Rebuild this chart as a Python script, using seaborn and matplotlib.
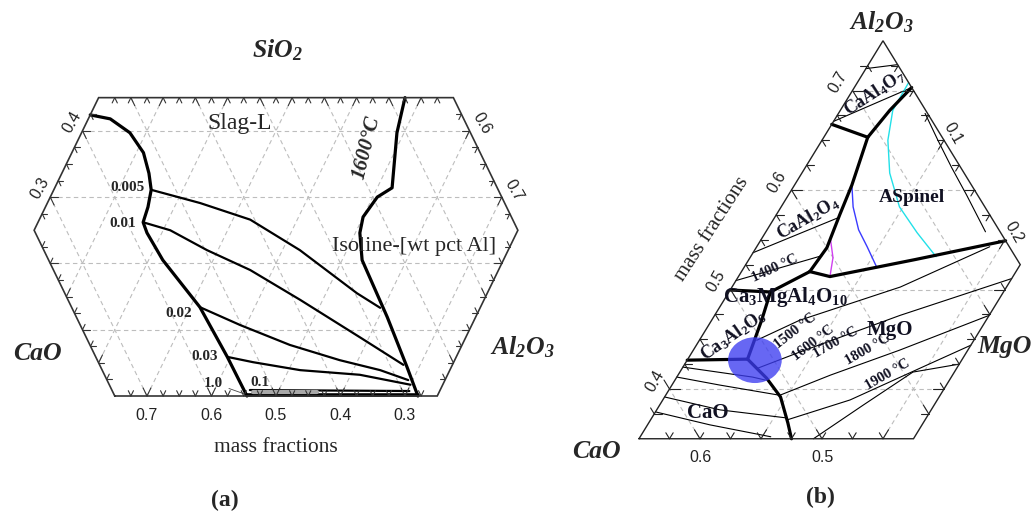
import numpy as np
import matplotlib
matplotlib.use("Agg")
import matplotlib.pyplot as plt
import seaborn as sns
from matplotlib.patches import Polygon, Ellipse

sns.set_theme(style="white")
plt.rcParams["font.family"] = ["Liberation Serif", "DejaVu Serif"]
plt.rcParams["axes.unicode_minus"] = False

# ------------------------------------------------------------------
# (a) CaO-SiO2-Al2O3 at 1600 C : (SiO2, Al2O3) mass fractions, CaO = balance
# ------------------------------------------------------------------
frame_a_sio2 = [0.0, 0.25, 0.45, 0.45, 0.25, 0.0]
frame_a_al2o3 = [0.25, 0.0, 0.0, 0.55, 0.75, 0.75]

slag_sio2 = [0.424, 0.418, 0.397, 0.367, 0.336, 0.311, 0.285, 0.262, 0.246, 0.205, 0.134, 0.059, 0.0]
slag_al2o3 = [0.0, 0.034, 0.075, 0.111, 0.135, 0.151, 0.159, 0.163, 0.177, 0.222, 0.315, 0.395, 0.455]

t1600_sio2 = [0.45, 0.397, 0.314, 0.300, 0.270, 0.246, 0.205, 0.119, 0.044, 0.0]
t1600_al2o3 = [0.475, 0.489, 0.523, 0.507, 0.500, 0.507, 0.531, 0.613, 0.681, 0.720]

iso_levels = ["0.005", "0.01", "0.02", "0.03", "0.1", "1.0"]
iso005_sio2 = [0.311, 0.291, 0.266, 0.220, 0.155, 0.133]
iso005_al2o3 = [0.151, 0.237, 0.327, 0.427, 0.548, 0.595]
iso01_sio2 = [0.262, 0.250, 0.220, 0.190, 0.145, 0.088, 0.047]
iso01_al2o3 = [0.163, 0.211, 0.283, 0.365, 0.465, 0.587, 0.674]
iso02_sio2 = [0.134, 0.107, 0.077, 0.054, 0.039, 0.024]
iso02_al2o3 = [0.315, 0.391, 0.483, 0.572, 0.642, 0.693]
iso03_sio2 = [0.059, 0.051, 0.039, 0.032, 0.017]
iso03_al2o3 = [0.395, 0.439, 0.518, 0.614, 0.700]
iso10_sio2 = [0.009, 0.0075]
iso10_al2o3 = [0.455, 0.703]
iso100_sio2 = [0.0015, 0.0015]
iso100_al2o3 = [0.455, 0.720]

ticks_a_cao = [0.7, 0.6, 0.5, 0.4, 0.3]
ticks_a_sio2 = [0.4, 0.3]
ticks_a_al2o3 = [0.6, 0.7]

# ------------------------------------------------------------------
# (b) CaO-Al2O3-MgO liquidus : (Al2O3, MgO) mass fractions, CaO = balance
# ------------------------------------------------------------------
frame_b_al2o3 = [0.35, 0.75, 0.525, 0.35]
frame_b_mgo = [0.0, 0.0, 0.225, 0.225]

# field boundaries (thick)
b1_al2o3, b1_mgo = [0.666, 0.653], [0.0, 0.036]
b2_al2o3, b2_mgo = [0.653, 0.680, 0.703], [0.036, 0.0405, 0.047]
b3_al2o3, b3_mgo = [0.653, 0.605, 0.575, 0.542, 0.518], [0.036, 0.047, 0.052, 0.058, 0.056]
b4_al2o3, b4_mgo = [0.518, 0.513, 0.530, 0.549], [0.056, 0.075, 0.136, 0.201]
b5_al2o3, b5_mgo = [0.518, 0.4975], [0.056, 0.034]
b6_al2o3, b6_mgo = [0.4995, 0.4975], [0.0, 0.034]
b7_al2o3, b7_mgo = [0.4975, 0.469, 0.430], [0.034, 0.041, 0.049]
b8_al2o3, b8_mgo = [0.429, 0.430], [0.0, 0.049]
b9_al2o3, b9_mgo = [0.430, 0.411, 0.392, 0.366, 0.35], [0.049, 0.074, 0.095, 0.114, 0.125]

# thin isotherms
ca4_top_al2o3, ca4_top_mgo = [0.722, 0.726], [0.0, 0.024]
ca4_low_al2o3, ca4_low_mgo = [0.669, 0.703], [0.0, 0.047]
spinel_arc_al2o3 = [0.677, 0.650, 0.622, 0.595, 0.558]
spinel_arc_mgo = [0.071, 0.095, 0.1205, 0.146, 0.180]
ca2_iso_al2o3, ca2_iso_mgo = [0.537, 0.572], [0.0, 0.052]
t1400_al2o3, t1400_mgo = [0.509, 0.534], [0.0, 0.058]

cao_iso_al2o3 = [[0.422, 0.412, 0.409], [0.412, 0.404, 0.394],
                 [0.392, 0.379, 0.371], [0.377, 0.364, 0.352]]
cao_iso_mgo = [[0.0, 0.062, 0.074], [0.0, 0.039, 0.092],
               [0.0, 0.052, 0.110], [0.0, 0.051, 0.107]]

mgo_iso_al2o3 = [[0.449, 0.469, 0.5025, 0.543], [0.421, 0.437, 0.474, 0.511],
                 [0.394, 0.414, 0.439, 0.474], [0.369, 0.389, 0.421, 0.444],
                 [0.35, 0.384, 0.417, 0.425]]
mgo_iso_mgo = [[0.047, 0.072, 0.138, 0.191], [0.062, 0.088, 0.152, 0.225],
               [0.094, 0.125, 0.169, 0.225], [0.112, 0.1535, 0.195, 0.225],
               [0.143, 0.167, 0.191, 0.225]]

# coloured isoactivity lines
cyan_al2o3 = [0.708, 0.680, 0.650, 0.617, 0.583, 0.557, 0.533]
cyan_mgo = [0.042, 0.043, 0.054, 0.072, 0.097, 0.1245, 0.152]
blue_al2o3 = [0.605, 0.583, 0.560, 0.543, 0.522]
blue_mgo = [0.047, 0.059, 0.075, 0.0905, 0.109]
magenta_al2o3 = [0.550, 0.532, 0.513]
magenta_mgo = [0.057, 0.068, 0.075]

target_al2o3, target_mgo = 0.429, 0.0555

ticks_b_cao = [0.6, 0.5]
ticks_b_al2o3 = [0.7, 0.6, 0.5, 0.4]
ticks_b_mgo = [0.1, 0.2]

# ------------------------------------------------------------------
W, H = 1032, 516
fig = plt.figure(figsize=(W / 100, H / 100), dpi=100)
fig.patch.set_facecolor("white")
PT = 0.72  # points per pixel


def make_axes(px_left, px_right, x0, kx, y0, ky):
    ax = fig.add_axes([px_left / W, 0, (px_right - px_left) / W, 1])
    lims = ((px_left - x0) / kx, (px_right - x0) / kx, (y0 - H) / ky, y0 / ky)
    ax.set_axis_off()
    ax.patch.set_alpha(0)
    return ax, lims


ax_a, lim_a = make_axes(0, 585, -46.5, 645, 396, 663)
ax_b, lim_b = make_axes(560, 1032, 425.5, 1220, 787, 995)


def txy(top, right):
    top = np.asarray(top, float)
    right = np.asarray(right, float)
    return right + top / 2.0, top


def curve(ax, top, right, color="black", lw=1.5, z=4, **kw):
    x, y = txy(top, right)
    sns.lineplot(x=x, y=y, sort=False, estimator=None, ax=ax, color=color,
                 linewidth=lw, zorder=z, legend=False,
                 solid_capstyle="round", solid_joinstyle="round", **kw)


def frame(ax, tops, rights, tick_len, edge_color, edge_lw):
    xs, ys = txy(tops, rights)
    poly = Polygon(np.column_stack([xs, ys]), closed=True, facecolor="none", edgecolor="none")
    ax.add_patch(poly)
    for v in np.arange(0.1, 0.95, 0.1):
        for t0, r0, t1, r1 in [(v, 0, v, 1 - v), (0, v, 1 - v, v), (0, 1 - v, 1 - v, 0)]:
            x, y = txy([t0, t1], [r0, r1])
            ln, = ax.plot(x, y, color="#bdbdbd", lw=0.8, ls=(0, (4, 3)), zorder=1)
            ln.set_clip_path(poly)
    ax.plot(np.append(xs, xs[0]), np.append(ys, ys[0]), color=edge_color,
            lw=edge_lw, zorder=6, solid_joinstyle="miter")
    cx, cy = xs.mean(), ys.mean()
    n = len(tops)
    # directions (d_top, d_right) of the three families of constant-fraction lines
    fam_dirs = {"top": (0.0, 1.0), "right": (1.0, 0.0), "left": (1.0, -1.0)}
    for i in range(n):
        p0 = np.array([tops[i], rights[i]])
        p1 = np.array([tops[(i + 1) % n], rights[(i + 1) % n]])
        for fam, d in fam_dirs.items():
            f = {"top": lambda p: p[0], "right": lambda p: p[1],
                 "left": lambda p: 1 - p[0] - p[1]}[fam]
            f0, f1 = f(p0), f(p1)
            if abs(f1 - f0) < 1e-9:
                continue
            lo, hi = sorted([f0, f1])
            for k in range(int(np.ceil(lo / 0.025 - 1e-6)), int(np.floor(hi / 0.025 + 1e-6)) + 1):
                v = k * 0.025
                if v <= lo + 1e-6 or v >= hi - 1e-6:
                    continue
                u = (v - f0) / (f1 - f0)
                p = p0 + u * (p1 - p0)
                px, py = txy(p[0], p[1])
                dx, dy = txy(d[0], d[1])
                if dx * (cx - px) + dy * (cy - py) < 0:
                    d = (-d[0], -d[1])
                L = tick_len * (1.5 if abs(v * 10 - round(v * 10)) < 1e-6 else 1.0)
                q = p + L * np.array(d)
                qx, qy = txy(q[0], q[1])
                ax.plot([px, qx], [py, qy], color=edge_color, lw=0.8, zorder=6)


def note(ax, top, right, text, dx, dy, **kw):
    x, y = txy(top, right)
    ax.annotate(text, (x, y), xytext=(dx * PT, dy * PT), textcoords="offset points", **kw)


def ftext(px, py, s, **kw):
    kw.setdefault("ha", "center")
    kw.setdefault("va", "center")
    fig.text(px / W, 1 - py / H, s, **kw)


# ---------------------------- panel (a) ----------------------------
frame(ax_a, frame_a_sio2, frame_a_al2o3, 0.008, "#333333", 1.2)

curve(ax_a, slag_sio2, slag_al2o3, lw=2.3, z=5)
curve(ax_a, t1600_sio2, t1600_al2o3, lw=2.3, z=5)
iso_curves = [(iso005_sio2, iso005_al2o3), (iso01_sio2, iso01_al2o3),
              (iso02_sio2, iso02_al2o3), (iso03_sio2, iso03_al2o3),
              (iso10_sio2, iso10_al2o3), (iso100_sio2, iso100_al2o3)]
for k, (s_, a_) in enumerate(iso_curves):
    curve(ax_a, s_, a_, lw=2.6 if k == 5 else 1.6, z=4)
curve(ax_a, [0.006, 0.006], [0.462, 0.56], color="#a8a8a8", lw=3.0, z=4)

lab_kw = dict(fontsize=11, fontweight="bold", va="center")
note(ax_a, iso005_sio2[0], iso005_al2o3[0], iso_levels[0], -7, 2, ha="right", **lab_kw)
note(ax_a, iso01_sio2[0], iso01_al2o3[0], iso_levels[1], -7, -1, ha="right", **lab_kw)
note(ax_a, iso02_sio2[0], iso02_al2o3[0], iso_levels[2], -8, -6, ha="right", **lab_kw)
note(ax_a, iso03_sio2[0], iso03_al2o3[0], iso_levels[3], -9, 0, ha="right", **lab_kw)
note(ax_a, iso10_sio2[0], iso10_al2o3[0], iso_levels[4], 10, 8, ha="center", **lab_kw)
note(ax_a, iso100_sio2[0], iso100_al2o3[0], iso_levels[5], -34, 12, ha="center",
     arrowprops=dict(arrowstyle="-", lw=0.6, color="#444444", shrinkA=2, shrinkB=0), **lab_kw)

tick_kw = dict(fontsize=11.5, family="Liberation Sans", ha="center", va="center", color="#222222")
for v in ticks_a_cao:
    note(ax_a, 0.0, 1 - v, f"{v:.1f}", 0, -19, **tick_kw)
for v in ticks_a_sio2:
    note(ax_a, v, 0.0, f"{v:.1f}", -10, 9, rotation=60, **tick_kw)
for v in ticks_a_al2o3:
    note(ax_a, 1 - v, v, f"{v:.1f}", 12, 7, rotation=-60, **tick_kw)

ftext(240, 124, "Slag-L", fontsize=17)
ftext(414, 246, "Isoline-[wt pct Al]", fontsize=16)
ftext(366, 148, "1600°C", fontsize=15, fontweight="bold", style="italic", rotation=76)
ftext(276, 447, "mass fractions", fontsize=15.5)
vkw = dict(fontsize=18.5, fontweight="bold", style="italic")
ftext(277, 50, r"$\mathdefault{SiO_2}$", **vkw)
ftext(37, 353, "CaO", **vkw)
ftext(522, 347, r"$\mathdefault{Al_2O_3}$", **vkw)
ftext(225, 500, "(a)", fontsize=17, fontweight="bold")

# ---------------------------- panel (b) ----------------------------
frame(ax_b, frame_b_al2o3, frame_b_mgo, 0.006, "#222222", 1.0)

for a_, m_ in [(b1_al2o3, b1_mgo), (b2_al2o3, b2_mgo), (b3_al2o3, b3_mgo),
               (b4_al2o3, b4_mgo), (b5_al2o3, b5_mgo), (b6_al2o3, b6_mgo),
               (b7_al2o3, b7_mgo), (b8_al2o3, b8_mgo), (b9_al2o3, b9_mgo)]:
    curve(ax_b, a_, m_, lw=2.3, z=5)

for a_, m_ in [(ca4_top_al2o3, ca4_top_mgo), (ca4_low_al2o3, ca4_low_mgo),
               (spinel_arc_al2o3, spinel_arc_mgo), (ca2_iso_al2o3, ca2_iso_mgo),
               (t1400_al2o3, t1400_mgo)]:
    curve(ax_b, a_, m_, lw=0.8, z=3)
for a_, m_ in zip(cao_iso_al2o3, cao_iso_mgo):
    curve(ax_b, a_, m_, lw=0.8, z=3)
for a_, m_ in zip(mgo_iso_al2o3, mgo_iso_mgo):
    curve(ax_b, a_, m_, lw=0.8, z=3)

curve(ax_b, cyan_al2o3, cyan_mgo, color="#22e0e8", lw=1.0, z=3)
curve(ax_b, blue_al2o3, blue_mgo, color="#3a3aff", lw=1.0, z=3)
curve(ax_b, magenta_al2o3, magenta_mgo, color="#d040f0", lw=1.0, z=3)

ex, ey = txy(target_al2o3, target_mgo)
ax_b.add_patch(Ellipse((ex, ey), 0.044, 0.046, facecolor="#3c3cf0", edgecolor="none",
                       alpha=0.78, zorder=7))

for v in ticks_b_cao:
    note(ax_b, 0.35, 0.65 - v, f"{v:.1f}", 0, -19, **tick_kw)
for v in ticks_b_al2o3:
    note(ax_b, v, 0.0, f"{v:.1f}", -14, 8, rotation=60, **tick_kw)
for v in ticks_b_mgo:
    note(ax_b, 0.75 - v, v, f"{v:.1f}", 9, 7, rotation=-60, **tick_kw)

fkw = dict(fontweight="bold", color="#111122")
ftext(875, 93, r"$\mathdefault{CaAl_4O_7}$", fontsize=13, rotation=33, **fkw)
ftext(808, 218, r"$\mathdefault{CaAl_2O_4}$", fontsize=13, rotation=30, **fkw)
ftext(912, 197, "ASpinel", fontsize=14, **fkw)
ftext(775, 268, "1400 °C", fontsize=10.5, rotation=25, **fkw)
ftext(785, 297, r"$\mathdefault{Ca_3MgAl_4O_{10}}$", fontsize=15, **fkw)
ftext(733, 335, r"$\mathdefault{Ca_3Al_2O_6}$", fontsize=13, rotation=35, **fkw)
ftext(795, 331, "1500 °C", fontsize=10.5, rotation=38, **fkw)
ftext(813, 343, "1600 °C", fontsize=10.5, rotation=38, **fkw)
ftext(836, 343, "1700 °C", fontsize=10.5, rotation=30, **fkw)
ftext(890, 330, "MgO", fontsize=15, **fkw)
ftext(868, 350, "1800 °C", fontsize=10.5, rotation=30, **fkw)
ftext(888, 375, "1900 °C", fontsize=10.5, rotation=30, **fkw)
ftext(708, 413, "CaO", fontsize=15, **fkw)

ftext(712, 229, "mass fractions", fontsize=15, rotation=57)
ftext(881, 22, r"$\mathdefault{Al_2O_3}$", **vkw)
ftext(1005, 346, "MgO", **vkw)
ftext(596, 452, "CaO", **vkw)
ftext(820, 497, "(b)", fontsize=17, fontweight="bold")

for ax, lims in [(ax_a, lim_a), (ax_b, lim_b)]:
    ax.set_xlim(lims[0], lims[1])
    ax.set_ylim(lims[2], lims[3])
    ax.set_axis_off()

fig.savefig("out.png", dpi=100, facecolor="white")
